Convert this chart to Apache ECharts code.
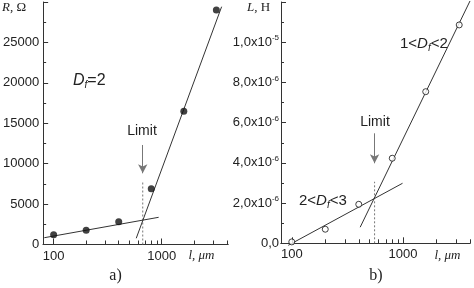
<!DOCTYPE html>
<html><head><meta charset="utf-8">
<script src="https://cdn.jsdelivr.net/npm/echarts@6/dist/echarts.min.js"></script>
<style>html,body{margin:0;padding:0;background:#fff}#c{width:474px;height:288px}</style>
</head><body><div id="c"></div>
<script>
// ---- data ----
const lengths = [100, 200, 400, 800, 1600, 3200];            // l, um
const resistance = [1200, 1750, 2800, 6900, 16500, 29000];   // R, Ohm
const inductance = [0.07e-6, 0.70e-6, 1.94e-6, 4.23e-6, 7.54e-6, 10.86e-6]; // L, H
const rFitLow = [[82, 840], [936, 3365]];
const rFitHigh = [[581, 770], [3580, 29420]];
const lFitLow = [[93, -0.1e-6], [990, 2.985e-6]];
const lFitHigh = [[412, 0.80e-6], [4000, 12.05e-6]];
const rLimit = 667, rLimitTop = 7770, rArrow = [12310, 8810];
const lLimit = 555, lLimitTop = 3.06e-6, lArrow = [5.47e-6, 3.98e-6];
const xMajor = [100, 1000];
const xMinor = [200, 300, 400, 500, 600, 700, 800, 900, 2000, 3000, 4000];

const AX = '#333', TXT = '#222';
const chart = echarts.init(document.getElementById('c'));
function xAxes(grid, max) {
  return [
    { type: 'log', gridIndex: grid, position: 'bottom', min: 80, max: max,
      axisLine: { onZero: false, lineStyle: { color: AX, width: 1 } },
      axisTick: { inside: true, length: 6, customValues: xMajor, lineStyle: { color: AX } },
      axisLabel: { customValues: xMajor, margin: 5, color: TXT, fontSize: 13, fontFamily: 'Liberation Sans',
        formatter: v => String(Math.round(v)) },
      splitLine: { show: false }, minorTick: { show: false } },
    { type: 'log', gridIndex: grid, position: 'bottom', min: 80, max: max,
      axisLine: { show: true, onZero: false, lineStyle: { color: AX, width: 1 } },
      axisTick: { show: true, inside: true, length: 4, customValues: xMinor, lineStyle: { color: AX } },
      axisLabel: { show: false }, splitLine: { show: false } }
  ];
}
function fmtL(v) {
  if (v === 0) return '0,0';
  const e = Math.floor(Math.log10(v) + 1e-9);
  const m = v / Math.pow(10, e);
  return m.toFixed(1).replace('.', ',') + 'x10{s|' + e + '}';
}
const lineS = { color: '#333', width: 1 };
const arrowML = (x, y0, y1) => ({
  silent: true, symbol: ['none', 'arrow'], symbolSize: [7, 9], label: { show: false },
  lineStyle: { color: '#777', width: 1, type: 'solid' },
  data: [[{ coord: [x, y0] }, { coord: [x, y1] }]]
});
const option = {
  animation: false,
  grid: [
    { left: 37, right: 246, top: 2, bottom: 43.5 },
    { left: 281, right: 4, top: 2, bottom: 44.7 }
  ],
  xAxis: [...xAxes(0, 4100), ...xAxes(1, 4000)],
  yAxis: [
    { type: 'value', gridIndex: 0, min: 0, max: 30000, interval: 5000,
      axisLine: { show: true, lineStyle: { color: AX } },
      axisTick: { show: true, inside: true, length: 5, lineStyle: { color: AX } },
      minorTick: { show: true, splitNumber: 2, length: 3, lineStyle: { color: AX } },
      axisLabel: { showMaxLabel: false, margin: 4, color: TXT, fontSize: 13, fontFamily: 'Liberation Sans',
        formatter: v => String(Math.round(v)) },
      splitLine: { show: false } },
    { type: 'value', gridIndex: 1, min: 0, max: 1.2e-5, interval: 2e-6,
      axisLine: { show: true, lineStyle: { color: AX } },
      axisTick: { show: true, inside: true, length: 5, lineStyle: { color: AX } },
      minorTick: { show: true, splitNumber: 2, length: 3, lineStyle: { color: AX } },
      axisLabel: { showMaxLabel: false, margin: 2, color: TXT, fontSize: 13, fontFamily: 'Liberation Sans',
        formatter: fmtL, rich: { s: { fontSize: 8, fontFamily: 'Liberation Sans', color: TXT, padding: [0, 0, 8, 0] } } },
      splitLine: { show: false } }
  ],
  series: [
    { type: 'line', xAxisIndex: 0, yAxisIndex: 0, data: rFitLow, showSymbol: false, lineStyle: lineS, clip: false, z: 2 },
    { type: 'line', xAxisIndex: 0, yAxisIndex: 0, data: rFitHigh, showSymbol: false, lineStyle: lineS, clip: false, z: 2 },
    { type: 'line', xAxisIndex: 0, yAxisIndex: 0, data: [[rLimit, 0], [rLimit, rLimitTop]], showSymbol: false,
      lineStyle: { color: '#777', width: 1, type: [2, 2] }, markLine: arrowML(rLimit, rArrow[0], rArrow[1]), z: 1 },
    { type: 'scatter', xAxisIndex: 0, yAxisIndex: 0, data: lengths.map((x, i) => [x, resistance[i]]),
      symbol: 'circle', symbolSize: 7, itemStyle: { color: '#111' }, z: 3 },

    { type: 'line', xAxisIndex: 2, yAxisIndex: 1, data: lFitLow, showSymbol: false, lineStyle: lineS, clip: false, z: 2 },
    { type: 'line', xAxisIndex: 2, yAxisIndex: 1, data: lFitHigh, showSymbol: false, lineStyle: lineS, clip: false, z: 2 },
    { type: 'line', xAxisIndex: 2, yAxisIndex: 1, data: [[lLimit, 0], [lLimit, lLimitTop]], showSymbol: false,
      lineStyle: { color: '#777', width: 1, type: [2, 2] }, markLine: arrowML(lLimit, lArrow[0], lArrow[1]), z: 1 },
    { type: 'scatter', xAxisIndex: 2, yAxisIndex: 1, data: lengths.map((x, i) => [x, inductance[i]]),
      symbol: 'circle', symbolSize: 6, itemStyle: { color: '#fff', borderColor: '#111', borderWidth: 1 }, z: 3 }
  ],
  graphic: [
    { type: 'text', left: 2, top: 1, style: { text: '{i|R}{n|, Ω}', rich: {
      i: { fontFamily: 'Liberation Serif', fontStyle: 'italic', fontSize: 13, fill: TXT },
      n: { fontFamily: 'Liberation Serif', fontSize: 13, fill: TXT } } } },
    { type: 'text', left: 247, top: 1, style: { text: '{i|L}{n|, H}', rich: {
      i: { fontFamily: 'Liberation Serif', fontStyle: 'italic', fontSize: 13, fill: TXT },
      n: { fontFamily: 'Liberation Serif', fontSize: 13, fill: TXT } } } },
    { type: 'text', x: 73, y: 81, style: { text: '{i|D}{s|f}{n|=2}', verticalAlign: 'middle', rich: {
      i: { fontFamily: 'Liberation Sans', fontStyle: 'italic', fontSize: 16, fill: TXT },
      s: { fontFamily: 'Liberation Sans', fontStyle: 'italic', fontSize: 10, fill: TXT, padding: [8, 0, 0, 0] },
      n: { fontFamily: 'Liberation Sans', fontSize: 16, fill: TXT } } } },
    { type: 'text', x: 400, y: 44, style: { text: '{n|1<}{i|D}{s|f}{n|<2}', verticalAlign: 'middle', rich: {
      i: { fontFamily: 'Liberation Sans', fontStyle: 'italic', fontSize: 15, fill: TXT },
      s: { fontFamily: 'Liberation Sans', fontStyle: 'italic', fontSize: 10, fill: TXT, padding: [8, 0, 0, 0] },
      n: { fontFamily: 'Liberation Sans', fontSize: 15, fill: TXT } } } },
    { type: 'text', x: 299, y: 201, style: { text: '{n|2<}{i|D}{s|f}{n|<3}', verticalAlign: 'middle', rich: {
      i: { fontFamily: 'Liberation Sans', fontStyle: 'italic', fontSize: 15, fill: TXT },
      s: { fontFamily: 'Liberation Sans', fontStyle: 'italic', fontSize: 10, fill: TXT, padding: [8, 0, 0, 0] },
      n: { fontFamily: 'Liberation Sans', fontSize: 15, fill: TXT } } } },
    { type: 'text', x: 142, y: 131, style: { text: 'Limit', align: 'center', verticalAlign: 'middle',
      font: '14px "Liberation Sans"', fill: TXT } },
    { type: 'text', x: 375, y: 122.5, style: { text: 'Limit', align: 'center', verticalAlign: 'middle',
      font: '14px "Liberation Sans"', fill: TXT } },
    { type: 'text', x: 201.5, y: 256, style: { text: 'l, μm', align: 'center', verticalAlign: 'middle',
      font: 'italic 13px "Liberation Serif"', fill: TXT } },
    { type: 'text', x: 447.5, y: 256, style: { text: 'l, μm', align: 'center', verticalAlign: 'middle',
      font: 'italic 13px "Liberation Serif"', fill: TXT } },
    { type: 'text', x: 115.5, y: 276, style: { text: 'a)', align: 'center', verticalAlign: 'middle',
      font: '16px "Liberation Serif"', fill: TXT } },
    { type: 'text', x: 376, y: 276, style: { text: 'b)', align: 'center', verticalAlign: 'middle',
      font: '16px "Liberation Serif"', fill: TXT } }
  ]
};
chart.setOption(option);
</script></body></html>
